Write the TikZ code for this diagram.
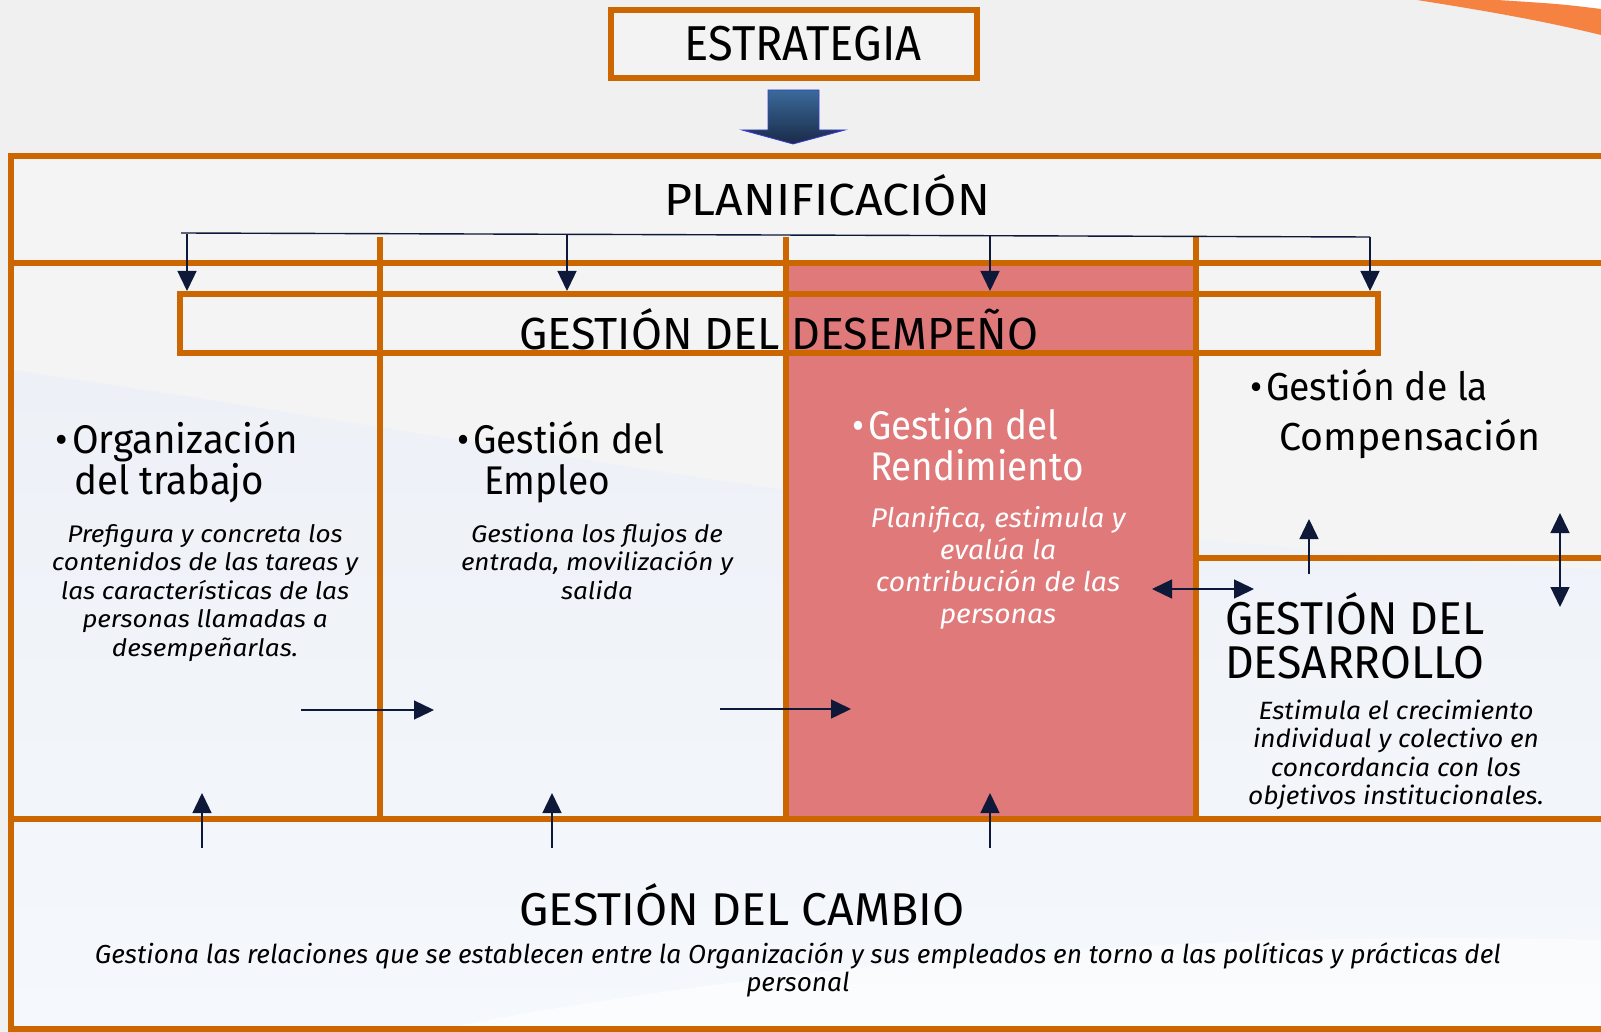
\documentclass[tikz,border=0pt]{standalone}
\usepackage{fontspec}
\setmainfont{Fira Sans}
\usepackage{graphicx}
\usetikzlibrary{arrows.meta}
\definecolor{frameor}{RGB}{204,102,0}
\definecolor{redcol}{RGB}{224,121,122}
\definecolor{navy}{RGB}{14,24,56}
\definecolor{bggray}{RGB}{240,240,240}
\definecolor{paneltop}{RGB}{244,244,244}
\definecolor{panelblue}{RGB}{237,241,247}
\definecolor{panelblue2}{RGB}{245,248,252}
\definecolor{swoosh}{RGB}{246,130,66}
\definecolor{arrtop}{RGB}{58,106,154}
\definecolor{arrbot}{RGB}{26,42,72}
\definecolor{arrborder}{RGB}{60,60,210}
\newlength\fitw
\newcommand\fitblock[3]{\settowidth\fitw{#2}\pgfmathsetmacro\fitr{#1/\fitw}\scalebox{\fitr}[1]{#3}}
\newcommand\fsz[2]{\fontsize{#1}{#2}\selectfont}
\newcommand\bul{\leavevmode\llap{\textbullet\hspace{4pt}}}
\tikzset{
  frame/.style={draw=frameor, line width=6pt},
  conn/.style={draw=navy, line width=1.4pt, -{Triangle[width=19pt,length=20pt]}},
  biconn/.style={draw=navy, line width=1.4pt, {Triangle[width=19pt,length=20pt]}-{Triangle[width=19pt,length=20pt]}},
  lbl/.style={inner sep=0pt, anchor=base},
  lblw/.style={inner sep=0pt, anchor=base west},
}
\begin{document}
\begin{tikzpicture}[x=1pt,y=-1pt]
\useasboundingbox (0,0) rectangle (1601,1032);
\clip (0,0) rectangle (1601,1032);
% background
\fill[bggray] (0,0) rectangle (1601,1032);
\fill[white] (1497,0) .. controls (1560,4) .. (1601,9) -- (1601,0) -- cycle;
\fill[swoosh] (1417,0) .. controls (1480,10) and (1540,20) .. (1601,35) -- (1601,9) .. controls (1560,4) .. (1497,0) -- cycle;
% panel
\fill[paneltop] (11,156) rectangle (1601,1029);
\shade[top color=panelblue, bottom color=panelblue2] (11,370) .. controls (500,440) and (900,530) .. (1601,570) -- (1601,1029) -- (11,1029) -- cycle;
\fill[white, opacity=0.6] (440,1029) .. controls (800,960) and (1200,930) .. (1601,940) -- (1601,1029) -- cycle;
% red column
\fill[redcol] (786,263) rectangle (1196,819);
% frame
\draw[frame] (1608,156) -- (11,156) -- (11,1029) -- (1608,1029);
\draw[frame] (11,263) -- (1608,263);
\draw[frame] (11,819) -- (1608,819);
\draw[frame] (1196,558) -- (1608,558);
% estrategia box
\node[frame, fill={rgb,255:red,243;green,243;blue,243}, minimum width=366pt, minimum height=68pt, inner sep=0pt] (estrbox) at (794,44) {};
\node[lbl, font=\fsz{49}{52}] (estrt) at (803,61) {\fitblock{237}{ESTRATEGIA}{ESTRATEGIA}};
% big arrow
\draw[arrborder, line width=0.8pt, top color=arrtop, bottom color=arrbot] (768,90) -- (819,90) -- (819,130) -- (845,130) -- (793,144) -- (742,130) -- (768,130) -- cycle;
% planificacion
\node[lbl, font=\fsz{45}{50}] (plan) at (827,216) {\fitblock{326}{PLANIFICACIÓN}{PLANIFICACIÓN}};
% desempeno box
\node[frame, minimum width=1198pt, minimum height=59pt, inner sep=0pt] (desbox) at (779,323.5) {};
% vertical dividers
\draw[frame] (380,237) -- (380,819);
\draw[frame] (786,237) -- (786,819);
\draw[frame] (1196,237) -- (1196,819);
\node[lbl, font=\fsz{45}{50}] (destxt) at (779,349) {\fitblock{519}{GESTIÓN DEL DESEMPEÑO}{GESTIÓN DEL DESEMPEÑO}};
% bracket and down arrows
\coordinate (brL) at (181,233);
\coordinate (brR) at (1370,237);
\draw[navy, line width=1.4pt] (brL) -- (brR);
\coordinate (d1) at (187,234);
\coordinate (d2) at (567,235);
\coordinate (d3) at (990,236);
\coordinate (d4) at (1370,237);
\draw[conn] (d1) -- (d1 |- desbox.north);
\draw[conn] (d2) -- (d2 |- desbox.north);
\draw[conn] (d3) -- (d3 |- desbox.north);
\draw[conn] (d4) -- (d4 |- desbox.north);
% column titles
\node[lblw, font=\fsz{40}{41}] (org) at (72,453) {\fitblock{226}{Organización}{\parbox[t]{400pt}{\raggedright\bul Organización\\\hspace*{2pt}del trabajo}}};
\node[lblw, font=\fsz{40}{41}] (emp) at (473,453) {\fitblock{191}{Gestión del}{\parbox[t]{400pt}{\raggedright\bul Gestión del\\\hspace*{12pt}Empleo}}};
\node[lblw, font=\fsz{40}{41}, text=white] (rend) at (868,439) {\fitblock{190}{Gestión del}{\parbox[t]{400pt}{\raggedright\bul Gestión del\\\hspace*{2pt}Rendimiento}}};
\node[lblw, font=\fsz{39}{50}] (comp) at (1266,400) {\fitblock{222}{Gestión de la}{\parbox[t]{400pt}{\raggedright\bul Gestión de la\\\hspace*{14pt}\scalebox{1.055}[1]{Compensación}}}};
\node[lblw, font=\fsz{46}{44}] (desa) at (1225,634) {\fitblock{259}{GESTIÓN DEL}{\parbox[t]{400pt}{\raggedright GESTIÓN DEL\\DESARROLLO}}};
% descriptions
\node[lbl, font=\fsz{24}{28.6}\itshape] (orgd) at (205,542) {\fitblock{306}{contenidos de las tareas y}{\parbox[t]{420pt}{\centering Prefigura y concreta los\\contenidos de las tareas y\\las características de las\\personas llamadas a\\desempeñarlas.}}};
\node[lbl, font=\fsz{24}{28.6}\itshape] (empd) at (597,542) {\fitblock{272}{entrada, movilización y}{\parbox[t]{420pt}{\centering Gestiona los flujos de\\entrada, movilización y\\salida}}};
\node[lbl, font=\fsz{27}{32}\itshape, text=white] (rendd) at (998,527) {\fitblock{255}{Planifica, estimula y}{\parbox[t]{420pt}{\centering Planifica, estimula y\\evalúa la\\contribución de las\\personas}}};
\node[lbl, font=\fsz{25}{28.6}\itshape] (desad) at (1396,719) {\fitblock{286}{individual y colectivo en}{\parbox[t]{420pt}{\centering Estimula el crecimiento\\individual y colectivo en\\concordancia con los\\objetivos institucionales.}}};
\node[lbl, font=\fsz{46}{50}] (camb) at (742,925) {\fitblock{445}{GESTIÓN DEL CAMBIO}{GESTIÓN DEL CAMBIO}};
\node[lbl, font=\fsz{26}{28}\itshape] (cambd) at (798,963) {\fitblock{1406}{Gestiona las relaciones que se establecen entre la Organización y sus empleados en torno a las políticas y prácticas del}{\parbox[t]{1700pt}{\centering Gestiona las relaciones que se establecen entre la Organización y sus empleados en torno a las políticas y prácticas del\\personal}}};
% inner arrows
\coordinate (h1a) at (301,710); \coordinate (h1b) at (434,710);
\coordinate (h2a) at (720,709); \coordinate (h2b) at (851,709);
\draw[conn] (h1a) -- (h1b);
\draw[conn] (h2a) -- (h2b);
\coordinate (u1a) at (202,848); \coordinate (u1b) at (202,793);
\coordinate (u2a) at (552,848); \coordinate (u2b) at (552,793);
\coordinate (u3a) at (990,848); \coordinate (u3b) at (990,793);
\draw[conn] (u1a) -- (u1b);
\draw[conn] (u2a) -- (u2b);
\draw[conn] (u3a) -- (u3b);
\coordinate (ba) at (1152,589); \coordinate (bb) at (1254,589);
\draw[biconn] (ba) -- (bb);
\coordinate (ca) at (1309,574); \coordinate (cb) at (1309,519);
\draw[conn] (ca) -- (cb);
\coordinate (va) at (1560,513); \coordinate (vb) at (1560,607);
\draw[biconn] (va) -- (vb);
\end{tikzpicture}
\end{document}
